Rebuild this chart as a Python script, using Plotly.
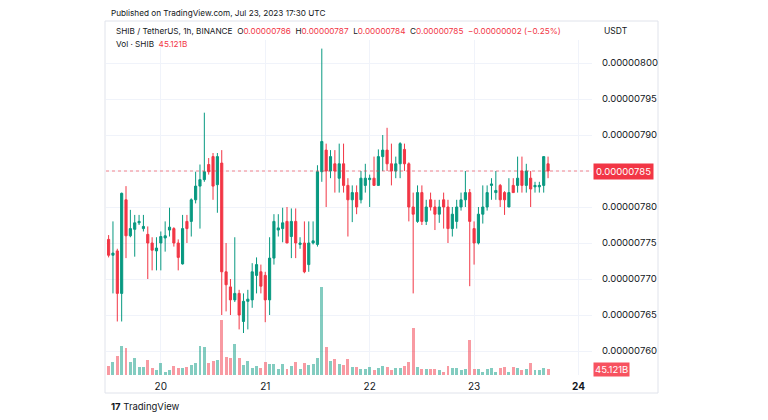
import plotly.graph_objects as go
import pandas as pd

# ---------------- data (prices in units of 1e-11 USDT, volume in billions SHIB) -------------
start_time = "2023-07-19 12:00"
open_ = [775.5, 773.3, 773.9, 768.0, 781.0, 776.0, 776.9, 777.8, 777.0, 776.2,
         775.0, 773.9, 775.0, 775.7, 776.8, 777.0, 775.0, 772.1, 778.0, 778.0,
         781.0, 782.9, 783.8, 785.9, 787.0, 783.1, 786.1, 771.0, 768.9, 767.1,
         768.0, 764.1, 766.9, 767.1, 770.5, 771.0, 770.5, 767.1, 772.9, 776.8,
         777.0, 778.0, 775.9, 778.0, 774.8, 775.0, 772.0, 775.0, 774.8, 784.9,
         787.9, 785.0, 786.0, 784.0, 786.0, 783.0, 781.0, 782.0, 781.0, 783.0,
         783.8, 784.0, 783.0, 787.0, 787.9, 786.0, 785.0, 786.0, 788.0, 786.0,
         780.0, 778.0, 782.0, 778.0, 781.0, 780.0, 779.0, 781.0, 780.0, 777.0,
         778.0, 780.0, 781.0, 782.0, 777.0, 775.0, 779.0, 780.0, 783.0, 782.0,
         783.0, 782.0, 780.0, 783.0, 783.0, 785.0, 783.0, 784.0, 782.8, 782.8,
         783.0, 786.0]
high = [776.1, 778.0, 774.2, 782.0, 782.9, 779.6, 778.9, 778.9, 778.9, 777.3,
        775.8, 775.8, 776.6, 778.0, 779.9, 777.2, 775.5, 778.9, 778.9, 781.2,
        784.9, 785.9, 793.1, 786.8, 787.5, 787.5, 787.9, 775.0, 770.0, 775.8,
        768.5, 768.0, 768.5, 772.2, 773.0, 772.0, 771.0, 775.8, 779.0, 779.0,
        779.9, 780.0, 779.8, 779.8, 775.8, 778.0, 778.0, 778.0, 785.8, 802.0,
        788.8, 787.9, 787.9, 788.8, 788.8, 784.0, 783.0, 783.0, 785.0, 786.0,
        784.5, 787.0, 788.0, 790.0, 791.0, 788.8, 787.0, 789.0, 788.8, 786.2,
        782.0, 783.0, 783.0, 781.0, 782.0, 781.0, 781.0, 782.0, 781.0, 780.0,
        781.0, 782.0, 785.0, 782.5, 778.0, 780.0, 783.0, 783.0, 784.0, 785.0,
        783.2, 782.2, 784.0, 784.0, 787.0, 787.0, 786.0, 785.0, 783.5, 783.5,
        787.0, 787.0]
low = [773.0, 768.0, 764.1, 764.1, 772.9, 775.8, 773.1, 777.5, 776.6, 770.0,
       771.2, 771.2, 771.2, 773.8, 775.9, 774.5, 771.2, 772.0, 775.0, 775.9,
       780.5, 777.0, 783.5, 784.5, 781.0, 779.2, 765.0, 765.5, 765.0, 766.8,
       763.0, 762.5, 763.0, 766.0, 768.0, 768.0, 764.0, 765.0, 772.0, 775.9,
       775.1, 775.0, 772.9, 772.9, 774.2, 770.8, 771.0, 774.8, 774.5, 783.5,
       780.0, 784.0, 782.0, 782.0, 782.0, 775.9, 777.9, 779.0, 780.5, 782.0,
       780.0, 783.0, 783.0, 785.0, 785.0, 783.0, 784.0, 784.0, 785.0, 778.0,
       768.0, 777.8, 777.5, 777.5, 779.5, 776.8, 777.8, 777.0, 775.0, 775.9,
       777.0, 779.5, 780.0, 769.0, 772.0, 774.8, 777.7, 779.5, 781.0, 781.0,
       780.0, 778.9, 780.0, 782.0, 782.0, 782.0, 782.0, 780.0, 782.0, 782.0,
       782.0, 784.0]
close = [773.3, 773.6, 768.0, 781.9, 776.0, 777.0, 777.8, 778.0, 777.3, 775.0,
         774.0, 774.3, 775.9, 776.0, 777.2, 775.0, 773.0, 777.0, 777.0, 781.0,
         782.9, 783.8, 784.9, 784.9, 782.9, 787.0, 771.0, 769.2, 767.1, 768.0,
         765.0, 766.9, 767.2, 771.0, 772.0, 769.0, 767.1, 772.9, 778.0, 777.1,
         777.8, 775.0, 778.0, 775.0, 775.0, 771.0, 775.0, 775.3, 784.9, 789.1,
         785.0, 787.0, 785.0, 786.0, 783.0, 781.0, 782.0, 780.0, 784.0, 784.0,
         784.0, 783.0, 787.0, 787.9, 786.0, 785.0, 786.0, 788.8, 786.0, 780.0,
         779.0, 782.0, 778.0, 780.0, 780.0, 779.0, 780.0, 780.0, 777.0, 779.0,
         780.0, 781.0, 782.0, 778.0, 775.0, 779.0, 780.0, 782.0, 783.2, 782.3,
         781.0, 781.0, 782.0, 782.0, 784.0, 783.0, 785.0, 782.5, 783.0, 783.0,
         787.0, 785.0]
volume = [71, 105, 150, 229, 211, 105, 137, 63, 63, 121,
          53, 37, 97, 26, 42, 71, 58, 53, 63, 79,
          95, 231, 221, 95, 111, 116, 432, 142, 132, 247,
          137, 79, 111, 58, 73, 53, 105, 89, 85, 45,
          85, 45, 71, 103, 45, 95, 77, 85, 137, 695,
          221, 111, 124, 85, 79, 124, 63, 63, 45, 45,
          63, 37, 58, 71, 63, 37, 58, 58, 73, 105,
          374, 63, 45, 45, 45, 45, 37, 26, 73, 53,
          53, 37, 45, 274, 45, 45, 26, 45, 58, 26,
          53, 63, 26, 63, 58, 37, 45, 95, 37, 37,
          58, 45]
day_ticks = ["2023-07-20", "2023-07-21", "2023-07-22", "2023-07-23", "2023-07-24"]
day_labels = ["20", "21", "22", "23", "<b>24</b>"]
# price ticks (units of 1e-11 USDT) and their labels; 785 is covered by the last-price tag
price_tick_vals = [760, 765, 770, 775, 780, 790, 795, 800]
price_tick_text = ["0.00000760", "0.00000765", "0.00000770", "0.00000775", "0.00000780",
                   "0.00000790", "0.00000795", "0.00000800"]
last_price = 785.0
last_price_label = "0.00000785"
last_volume = 45.121
last_volume_label = "45.121B"

times = pd.date_range(start_time, periods=len(open_), freq="h")

UP = "#089981"
DOWN = "#F23645"
UP_VOL = "rgba(8,153,129,0.5)"
DOWN_VOL = "rgba(242,54,69,0.5)"
vol_colors = [UP_VOL if cc >= oo else DOWN_VOL for oo, cc in zip(open_, close)]

FONT = "Inter, Roboto, Arial, sans-serif"
TXT = "#131722"

fig = go.Figure()
fig.add_trace(go.Candlestick(x=times, open=open_, high=high, low=low, close=close,
                             yaxis="y", xaxis="x",
                             increasing=dict(line=dict(color=UP, width=1), fillcolor=UP),
                             decreasing=dict(line=dict(color=DOWN, width=1), fillcolor=DOWN),
                             whiskerwidth=0, hoverinfo="skip"))
fig.add_trace(go.Bar(x=times, y=volume, marker=dict(color=vol_colors, line=dict(width=0)),
                     width=0.68 * 3600000, yaxis="y2", xaxis="x", hoverinfo="skip"))

t0 = times[0]
x_start = t0 - pd.Timedelta(minutes=36)
x_end = t0 + pd.Timedelta(hours=111.1)

# The page body has an 8px margin: figure is 760x412 so that page pixels = figure pixels + 8.
OFF = 8
PAGE_W, PAGE_H = 768, 420
L, R, T, B = 106, 592, 40, 375        # plot area in page pixels
W, H = R - L, B - T
def px(xp):
    return (xp - L) / W
def py(yp):
    return (B - yp) / H

p_bottom = 800 - (B - 63) / 7.2
p_top = 800 + (63 - T) / 7.2

fig.update_layout(
    width=PAGE_W - OFF, height=PAGE_H - OFF,
    margin=dict(l=L - OFF, r=PAGE_W - R, t=T - OFF, b=PAGE_H - B, pad=0),
    paper_bgcolor="white", plot_bgcolor="white",
    showlegend=False,
    font=dict(family=FONT, size=10, color=TXT),
    xaxis=dict(range=[x_start, x_end], type="date",
               tickvals=day_ticks, ticktext=day_labels,
               showgrid=True, gridcolor="#f0f3fa", gridwidth=1,
               zeroline=False, showline=False, ticks="outside", ticklen=2,
               tickcolor="rgba(0,0,0,0)", tickfont=dict(size=10, color=TXT),
               rangeslider=dict(visible=False), fixedrange=True),
    yaxis=dict(range=[p_bottom, p_top], side="right",
               tickvals=price_tick_vals, ticktext=price_tick_text,
               showgrid=True, gridcolor="#f0f3fa", gridwidth=1, zeroline=False,
               showline=False, ticks="outside", ticklen=7, tickcolor="rgba(0,0,0,0)",
               tickfont=dict(size=9.5, color=TXT), fixedrange=True),
    yaxis2=dict(range=[0, 7.9 * H], overlaying="y", visible=False, fixedrange=True,
                showgrid=False),
    bargap=0,
)

shapes = [
    dict(type="rect", xref="paper", yref="paper", x0=px(105), x1=px(658), y0=py(393), y1=py(21),
         line=dict(color="#e0e3eb", width=1), fillcolor="rgba(0,0,0,0)", layer="below"),
    dict(type="line", xref="paper", yref="y", x0=0, x1=1, y0=785, y1=785,
         line=dict(color="#f0f3fa", width=1), layer="below"),
    dict(type="line", xref="paper", yref="y", x0=0, x1=1, y0=last_price, y1=last_price,
         line=dict(color="rgba(242,54,69,0.6)", width=1, dash="dot")),
]
fig.update_layout(shapes=shapes)

red = lambda s: f"<span style='color:{DOWN}'>{s}</span>"
legend = ("SHIB / TetherUS, 1h, BINANCE&nbsp;&nbsp;O" + red("0.00000786") +
          "&nbsp;&nbsp;H" + red("0.00000787") + "&nbsp;&nbsp;L" + red("0.00000784") +
          "&nbsp;&nbsp;C" + red("0.00000785") + "&nbsp;&nbsp;" + red("\u22120.00000002 (\u22120.25%)"))
ann = [
    dict(text="Published on TradingView.com, Jul 23, 2023 17:30 UTC", x=px(109), y=py(13),
         font=dict(size=8.2, color=TXT)),
    dict(text=legend, x=px(114), y=py(31), font=dict(size=8.2, color=TXT)),
    dict(text="Vol \u00b7 SHIB&nbsp;&nbsp;" + red("45.121B"), x=px(114), y=py(44),
         font=dict(size=8.2, color=TXT)),
    dict(text="USDT", x=px(602), y=py(31), font=dict(size=8.5, color=TXT)),
    dict(text="<b>17</b>&nbsp;TradingView", x=px(109), y=py(406), font=dict(size=9.5, color=TXT)),
]
for a in ann:
    a.update(xref="paper", yref="paper", xanchor="left", yanchor="middle", showarrow=False)
ann.append(dict(text=last_price_label, xref="paper", yref="y", x=1, y=last_price, xshift=1,
                xanchor="left", yanchor="middle", showarrow=False, bgcolor=DOWN,
                borderpad=2, font=dict(size=9.5, color="white")))
ann.append(dict(text=last_volume_label, xref="paper", yref="y2", x=1, y=last_volume, xshift=1,
                xanchor="left", yanchor="middle", showarrow=False, bgcolor="#F7525F",
                borderpad=1, font=dict(size=9.5, color="white")))
fig.update_layout(annotations=ann)

fig.write_html("out.html")
